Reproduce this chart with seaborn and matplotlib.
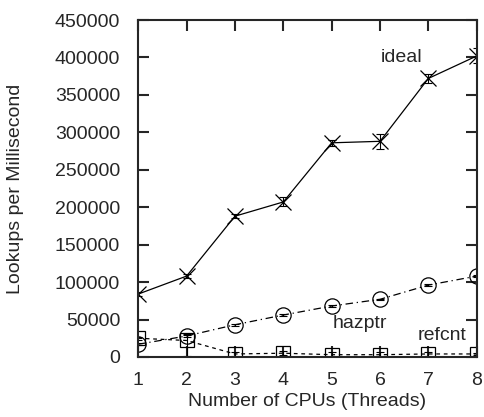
import matplotlib
matplotlib.use("Agg")
import matplotlib.pyplot as plt
import seaborn as sns
import pandas as pd
import numpy as np

# Data
cpus = [1, 2, 3, 4, 5, 6, 7, 8]
ideal = [84000, 108000, 188000, 207000, 286000, 288000, 372000, 402000]
ideal_err = [3000, 3000, 3000, 6000, 4000, 10000, 6000, 10000]
hazptr = [17000, 28000, 43000, 56000, 68000, 77000, 96000, 108000]
hazptr_err = [1000, 1000, 1000, 1000, 1000, 1000, 1000, 1000]
refcnt = [25000, 22000, 4000, 5000, 3000, 3000, 4000, 4000]
refcnt_err_lo = [2000, 21000, 3000, 3000, 4000, 4000, 3000, 1000]
refcnt_err_hi = [2000, 8000, 3000, 3000, 4000, 4000, 3000, 1000]

sns.set_style("ticks")
plt.rcParams['font.family'] = ['Liberation Sans', 'DejaVu Sans']

df = pd.DataFrame({
    'cpus': cpus * 3,
    'value': ideal + hazptr + refcnt,
    'series': ['ideal'] * 8 + ['hazptr'] * 8 + ['refcnt'] * 8,
})

fig = plt.figure(figsize=(4.85, 4.17), dpi=100)
ax = fig.add_axes([0.285, 0.144, 0.698, 0.808])

styles = {
    'ideal': dict(linestyle='-', marker='x', ms=11, err=ideal_err),
    'hazptr': dict(linestyle=(0, (6, 3, 1, 3)), marker='o', ms=11, err=hazptr_err),
    'refcnt': dict(linestyle=(0, (3, 3)), marker='s', ms=10,
                   err=[refcnt_err_lo, refcnt_err_hi]),
}

for name, st in styles.items():
    sub = df[df['series'] == name]
    sns.lineplot(data=sub, x='cpus', y='value', ax=ax, color='black',
                 linestyle=st['linestyle'], linewidth=0.9, marker=st['marker'],
                 markersize=st['ms'], markerfacecolor='none', markeredgecolor='black',
                 markeredgewidth=0.9, legend=False)
    ax.errorbar(sub['cpus'], sub['value'], yerr=st['err'], fmt='none',
                ecolor='black', elinewidth=0.8, capsize=3, capthick=0.8)

ax.text(6.45, 400000, 'ideal', fontsize=14, ha='center', va='center')
ax.text(5.58, 45000, 'hazptr', fontsize=14, ha='center', va='center')
ax.text(7.28, 29000, 'refcnt', fontsize=14, ha='center', va='center')

ax.set_xlim(1, 8)
ax.set_ylim(0, 450000)
ax.set_xticks(cpus)
ax.set_yticks(np.arange(0, 450001, 50000))
ax.set_xlabel('Number of CPUs (Threads)', fontsize=14, labelpad=3)
ax.set_ylabel('Lookups per Millisecond', fontsize=14, labelpad=22)
ax.tick_params(direction='in', length=8, width=1.5, labelsize=14,
               top=True, right=True)
ax.tick_params(axis='x', pad=11)
ax.tick_params(axis='y', pad=13)
for sp in ax.spines.values():
    sp.set_linewidth(1.5)

fig.savefig('out.png', dpi=100)
